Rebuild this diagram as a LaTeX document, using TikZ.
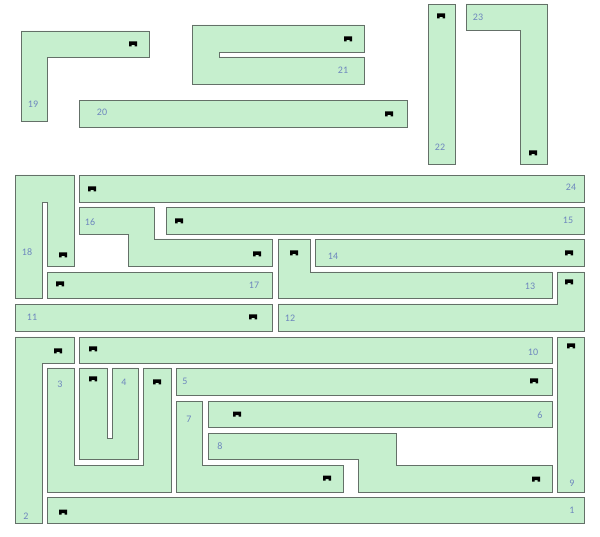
\documentclass[tikz,border=0pt]{standalone}
\usepackage{fontspec}
\setmainfont{Carlito}
\begin{document}
\begin{tikzpicture}[x=1pt,y=-1pt]
\definecolor{roomfill}{RGB}{198,239,206}
\definecolor{roomline}{RGB}{100,112,104}
\definecolor{numcol}{RGB}{110,135,190}
\tikzset{
  room/.style={fill=roomfill,draw=roomline,line width=0.9pt,line join=miter},
  num/.style={text=numcol,font=\fontsize{10}{10}\selectfont,inner sep=0pt},
  lockpic/.pic={\fill[black] (-4,-2.5) -- (4,-2.5) -- (4,2.5) -- (1.5,2.5) -- (1.5,1) -- (-1.5,1) -- (-1.5,2.5) -- (-4,2.5) -- cycle;}
}
\useasboundingbox (0,0) rectangle (600,537);
% 19
\draw[room] (21,31) -- (149,31) -- (149,57) -- (47,57) -- (47,121) -- (21,121) -- cycle;
% 21
\draw[room] (192,25) -- (364,25) -- (364,52) -- (219,52) -- (219,57) -- (364,57) -- (364,84) -- (192,84) -- cycle;
% 20
\draw[room] (79,100) rectangle (407,127);
% 22
\draw[room] (428,4) rectangle (455,164);
% 23
\draw[room] (466,4) -- (547,4) -- (547,164) -- (520,164) -- (520,30) -- (466,30) -- cycle;
% 18
\draw[room] (15,175) -- (74,175) -- (74,266) -- (47,266) -- (47,202) -- (42,202) -- (42,298) -- (15,298) -- cycle;
% 24
\draw[room] (79,175) rectangle (584,202);
% 16
\draw[room] (79,207) -- (154,207) -- (154,239) -- (272,239) -- (272,266) -- (128,266) -- (128,234) -- (79,234) -- cycle;
% 15
\draw[room] (166,207) rectangle (584,234);
% 17
\draw[room] (47,272) rectangle (272,298);
% 11
\draw[room] (15,304) rectangle (272,331);
% 14
\draw[room] (315,239) rectangle (584,266);
% 13
\draw[room] (278,239) -- (310,239) -- (310,272) -- (552,272) -- (552,298) -- (278,298) -- cycle;
% 12
\draw[room] (557,272) -- (584,272) -- (584,331) -- (278,331) -- (278,304) -- (557,304) -- cycle;
% 2
\draw[room] (15,337) -- (74,337) -- (74,363) -- (42,363) -- (42,523) -- (15,523) -- cycle;
% 10
\draw[room] (79,337) rectangle (552,363);
% 9
\draw[room] (557,337) rectangle (584,492);
% 1
\draw[room] (47,497) rectangle (584,523);
% 3
\draw[room] (47,368) -- (74,368) -- (74,465) -- (143,465) -- (143,368) -- (171,368) -- (171,492) -- (47,492) -- cycle;
% 4
\draw[room] (79,368) -- (107,368) -- (107,438) -- (112,438) -- (112,368) -- (138,368) -- (138,459) -- (79,459) -- cycle;
% 5
\draw[room] (176,368) rectangle (552,395);
% 7
\draw[room] (176,401) -- (202,401) -- (202,465) -- (343,465) -- (343,492) -- (176,492) -- cycle;
% 6
\draw[room] (208,401) rectangle (552,427);
% 8
\draw[room] (208,433) -- (396,433) -- (396,465) -- (552,465) -- (552,492) -- (358,492) -- (358,459) -- (208,459) -- cycle;
% labels
\node[num] (n1) at (572,510) {1};
\node[num] (n2) at (26,516) {2};
\node[num] (n3) at (60,384) {3};
\node[num] (n4) at (124,382) {4};
\node[num] (n5) at (185,381) {5};
\node[num] (n6) at (540,415) {6};
\node[num] (n7) at (189,419) {7};
\node[num] (n8) at (220,446) {8};
\node[num] (n9) at (572,483) {9};
\node[num] (n10) at (533,352) {10};
\node[num] (n11) at (32,317) {11};
\node[num] (n12) at (290,318) {12};
\node[num] (n13) at (530,286) {13};
\node[num] (n14) at (333,256) {14};
\node[num] (n15) at (568,220) {15};
\node[num] (n16) at (90,222) {16};
\node[num] (n17) at (254,285) {17};
\node[num] (n18) at (27,252) {18};
\node[num] (n19) at (33,104) {19};
\node[num] (n20) at (102,112) {20};
\node[num] (n21) at (343,70) {21};
\node[num] (n22) at (440,147) {22};
\node[num] (n23) at (478,17) {23};
\node[num] (n24) at (571,187) {24};
% locks
\foreach \p in {(133,44),(348,39),(389,114),(441,16),(533,153),(63,255),(92,189),(257,254),(179,221),(60,284),(253,317),(569,253),(294,253),(569,282),(58,351),(93,349),(571,346),(63,512),(157,382),(93,379),(534,381),(327,478),(237,414),(536,479)}
  \pic at \p {lockpic};
\end{tikzpicture}
\end{document}
